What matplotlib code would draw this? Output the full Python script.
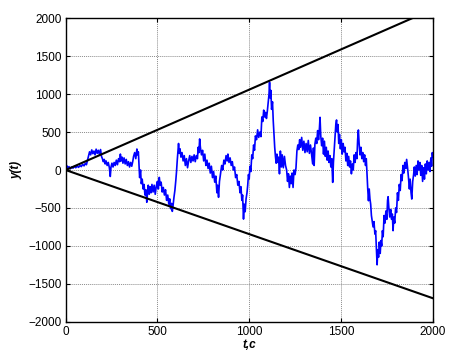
import matplotlib
matplotlib.use("Agg")
import matplotlib.pyplot as plt

# ---- data ----
walk_t = [0, 5, 10, 18, 25, 32, 40, 48, 55, 62, 70, 78, 85, 92, 100, 107, 113, 118,
          124, 130, 136, 142, 148, 154, 160, 166, 172, 178, 184, 190, 195, 200,
          205, 210, 215, 220, 226, 232, 238, 243, 247,
          252, 258, 264, 270, 276, 282, 288, 294, 298,
          302, 307, 312, 318, 324, 330, 336, 342, 348, 354, 360, 366,
          370, 376, 382, 388, 392, 396,
          399, 403, 408, 412, 417, 422, 427, 432, 437, 442, 446, 450,
          455, 460, 465, 470, 476, 482, 488, 494, 500, 505, 510, 515, 520,
          526, 532, 538, 544, 550, 556, 562, 567, 572, 577, 581, 585, 590,
          595, 600, 604, 608, 612, 615, 619, 623,
          628, 634, 640, 646, 652, 658, 664, 670,
          676, 682, 688, 694, 700, 706, 712, 718, 722, 726, 730, 734, 740, 746, 752, 758,
          764, 770, 776, 782, 788, 794, 800, 806, 812, 818, 824, 828, 833, 838,
          844, 850, 856, 862, 868, 874, 880, 884, 890, 896, 902, 908, 914, 920, 926, 932,
          938, 944, 950, 955, 960, 964, 969, 973, 978, 983, 988, 992, 996, 1000, 1004,
          1009, 1014, 1019, 1024, 1029, 1034, 1040, 1046, 1052, 1058, 1064,
          1069, 1074, 1079, 1084, 1089, 1094, 1099, 1104, 1108, 1111, 1114, 1118, 1122,
          1127, 1131, 1135, 1139, 1143, 1147, 1151, 1155, 1160, 1165, 1170, 1175, 1180,
          1186, 1192, 1198, 1204, 1209, 1214, 1219, 1224, 1229, 1234, 1239, 1244, 1250,
          1255, 1260, 1265, 1270, 1275, 1280, 1286, 1292, 1298, 1304, 1310, 1316, 1322,
          1328, 1334, 1340, 1346, 1350, 1354, 1358, 1363, 1368, 1373, 1378, 1383, 1386,
          1390, 1395, 1400, 1405, 1410, 1415, 1420, 1425, 1430, 1435, 1440, 1445, 1450,
          1455, 1459, 1464, 1468, 1472, 1476, 1480, 1484, 1488, 1492, 1497, 1502, 1507,
          1512, 1517, 1522, 1527, 1532, 1537, 1542, 1547, 1552, 1557, 1562, 1567, 1572,
          1577, 1582, 1587, 1591, 1595, 1599, 1604, 1609, 1614, 1619, 1624, 1629, 1634,
          1638, 1642, 1646, 1650, 1654, 1658, 1662, 1666, 1670, 1675, 1680, 1685, 1689,
          1693, 1697, 1701, 1705, 1709, 1714, 1718, 1722, 1726, 1730, 1735, 1740, 1745,
          1750, 1754, 1757, 1761, 1766, 1771, 1776, 1780, 1784, 1788, 1793, 1798, 1803,
          1808, 1813, 1818, 1823, 1828, 1833, 1838, 1843, 1848, 1853, 1858, 1863, 1868,
          1873, 1877, 1882, 1886, 1891, 1896, 1900, 1905, 1910, 1915, 1920, 1925, 1930,
          1935, 1940, 1945, 1950, 1955, 1960, 1965, 1970, 1975, 1980, 1985, 1990, 1994,
          1998, 2000]
walk_y = [0, 60, 20, 45, 15, 40, 25, 50, 30, 55, 35, 60, 45, 75, 55, 90, 70, 120,
          180, 240, 200, 265, 215, 250, 200, 275, 220, 260, 205, 270, 180, 150,
          110, 140, 80, 120, 60, 100, 30, -85, 40,
          90, 40, 100, 60, 130, 70, 150, 110, 210,
          120, 170, 90, 160, 80, 140, 60, 110, 40, 100, 50, 120,
          180, 230, 150, 277, 200, 240,
          100, -100, 0, -180, -120, -250, -190, -330, -260, -425, -300, -200,
          -320, -220, -300, -190, -290, -200, -320, -210, -150, -250, -97, -200, -160,
          -290, -230, -330, -260, -400, -330, -450, -380, -510, -440, -545, -470, -360,
          -270, -140, -20, 130, 250, 350, 220, 280,
          170, 230, 120, 190, 60, 150, 30, 120,
          190, 100, 180, 120, 200, 110, 190, 150, 300, 230, 410, 300, 200, 260, 120, 210,
          60, 130, 20, 90, -40, 50, -100, -20, -160, -80, -300, -200, -360, -150,
          -50, 60, 0, 130, 80, 190, 120, 210, 100, 160, 60, 110, 0, 40, -100, -60,
          -200, -150, -300, -220, -400, -330, -647, -450, -550, -380, -300, -200, -60, -120, 50,
          -20, 200, 150, 330, 260, 450, 400, 530, 430, 500, 440,
          700, 640, 790, 700, 760, 680, 780, 900, 1000, 1157, 950, 1050, 800,
          900, 650, 470, 300, 180, 90, 210, 100, 170, -50, 250, 40, 200,
          30, 180, 60, 0, -150, -50, -230, -80, -180, -40, -230, 0, -60,
          30, 250, 330, 270, 400, 300, 430, 260, 380, 230, 350, 240, 390,
          220, 330, 210, 80, 290, 60, 340, 420, 350, 520, 400, 560, 695,
          450, 320, 420, 210, 380, 180, 300, 130, 250, 100, 190, 40, 150,
          -163, 100, 300, 450, 600, 660, 500, 600, 350, 470, 280, 400, 210,
          350, 240, 300, 120, 220, 60, 180, 40, 120, -50, 80, 0, 200,
          100, 230, 150, 400, 528, 350, 200, 300, 150, 230, 110, 200, 60,
          150, -50, -250, -405, -250, -380, -450, -600, -670, -750, -680, -845, -800,
          -1020, -1250, -1050, -1150, -950, -1100, -930, -1000, -800, -880, -600, -700, -540,
          -650, -400, -352, -500, -620, -520, -650, -580, -800, -620, -700, -500, -560,
          -300, -400, -190, -270, -60, -140, 60, -40, 100, 20, 140, 30, -100,
          -250, -120, -300, -383, -150, -60, 40, -80, 60, -60, 120, 0, 100,
          -70, 60, -150, 30, -120, 80, -50, 120, 0, 100, -20, 160, 50,
          230, 180]

bound_t = [0, 2000]
upper_y = [0, 2120]
lower_y = [0, -1690]

x_ticks = [0, 500, 1000, 1500, 2000]
y_ticks = [-2000, -1500, -1000, -500, 0, 500, 1000, 1500, 2000]

plt.rcParams['font.family'] = ['Liberation Sans', 'DejaVu Sans']

fig = plt.figure(figsize=(4.49, 3.53), dpi=100)
ax = fig.add_axes([0.1463, 0.0887, 0.8174, 0.8593])

ax.plot(walk_t, walk_y, color='#0000ff', lw=1.2)
ax.plot(bound_t, upper_y, color='black', lw=1.5)
ax.plot(bound_t, lower_y, color='black', lw=1.5)

ax.set_xlim(0, 2000)
ax.set_ylim(-2000, 2000)
ax.set_xticks(x_ticks)
ax.set_yticks(y_ticks)
ax.set_axisbelow(True)
ax.grid(True, color='#8c8c8c', linestyle=(0, (1, 1)), linewidth=0.7)
ax.tick_params(direction='in', length=3, width=0.8, labelsize=8.5,
               top=True, right=True, pad=3)
for s in ax.spines.values():
    s.set_linewidth(1.0)
    s.set_color('black')

ax.set_xlabel('t,c', fontsize=8.5, fontweight='bold', fontstyle='italic', labelpad=1)
ax.set_ylabel('y(t)', fontsize=8.5, fontweight='bold', fontstyle='italic', labelpad=4)

fig.savefig('out.png', dpi=100, facecolor='white')
